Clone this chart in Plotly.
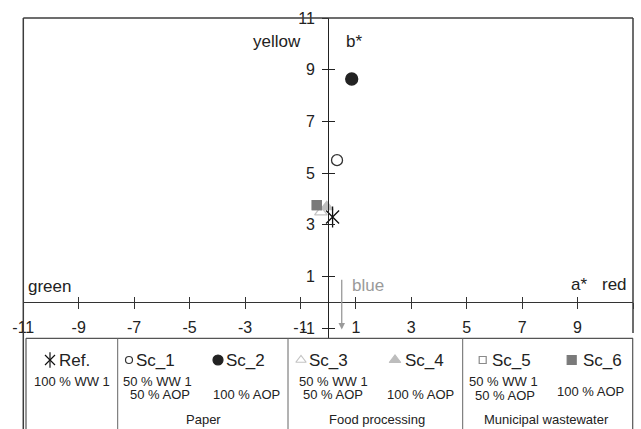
import plotly.graph_objects as go

# ---------------- data ----------------
scenarios = ["Ref.", "Sc_1", "Sc_2", "Sc_3", "Sc_4", "Sc_5", "Sc_6"]
a_star = [0.16, 0.32, 0.85, -0.26, -0.05, -0.41, -0.41]
b_star = [3.30, 5.50, 8.64, 3.49, 3.69, 3.76, 3.76]
x_ticks = [-11, -9, -7, -5, -3, -1, 1, 3, 5, 7, 9, 11]
x_tick_labels = ["-11", "-9", "-7", "-5", "-3", "-1", "1", "3", "5", "7", "9", "11"]
y_ticks = [-1, 1, 3, 5, 7, 9, 11]
y_tick_labels = ["-1", "1", "3", "5", "7", "9", "11"]

# legend-table content
line1 = ["100 % WW 1", "50 % WW 1", "", "50 % WW 1", "", "50 % WW 1", ""]
line2 = ["", "50 % AOP", "100 % AOP", "50 % AOP", "100 % AOP", "50 % AOP", "100 % AOP"]
groups = ["Paper", "Food processing", "Municipal wastewater"]

# ---------------- styles ----------------
W, H = 641, 429
FONT = "Arial, Liberation Sans, sans-serif"
TXT = "#222222"
symbols = ["x-thin-open", "circle-open", "circle", "triangle-up-open", "triangle-up", "square-open", "square"]
colors = ["#111111", "#333333", "#222222", "#c4c4c4", "#bdbdbd", "#8a8a8a", "#7a7a7a"]
sizes = [13, 11, 12, 11, 11, 9, 9]
leg_sizes = [10, 7, 10, 9, 10, 7, 9]

# pixel geometry
px_left, px_right = 23.3, 633.0
px_top, px_bottom_axis, px_zero = 18.0, 338.0, 302.3
x_range = [-11, 11]
ppu_y = (px_zero - px_top) / 11.0
y_bottom = -(px_bottom_axis - px_zero) / ppu_y
x_dom = [px_left / W, px_right / W]
y_dom = [(H - px_bottom_axis) / H, (H - px_top) / H]
x_axis_pos = (H - px_zero) / H
y_axis_pos = (x_dom[0] + x_dom[1]) / 2

fig = go.Figure()

# data markers
for i, name in enumerate(scenarios):
    fig.add_trace(go.Scatter(
        x=[a_star[i]], y=[b_star[i]], mode="markers", name=name,
        marker=dict(symbol=symbols[i], size=sizes[i], color=colors[i],
                    line=dict(width=1.3, color=colors[i])),
        xaxis="x", yaxis="y", hoverinfo="skip"))
# vertical arm of the Ref. star marker (on overlay axes, same scale)
fig.add_trace(go.Scatter(
    x=[a_star[0]], y=[b_star[0]], mode="markers",
    marker=dict(symbol="line-ns-open", size=15, color=colors[0], line=dict(width=1.3, color=colors[0])),
    xaxis="x3", yaxis="y3", hoverinfo="skip"))

# legend table markers (pixel axes)
head_marker_x = [50, 129, 218, 301, 395, 482.7, 571.7]
head_text_x = [57, 134, 224, 306.5, 403, 490, 581]
head_y = 360
for i, name in enumerate(scenarios):
    fig.add_trace(go.Scatter(
        x=[head_marker_x[i]], y=[head_y], mode="markers",
        marker=dict(symbol=symbols[i], size=leg_sizes[i], color=colors[i],
                    line=dict(width=1.2, color=colors[i])),
        xaxis="x4", yaxis="y4", hoverinfo="skip"))
fig.add_trace(go.Scatter(
    x=[head_marker_x[0]], y=[head_y], mode="markers",
    marker=dict(symbol="line-ns-open", size=11, color=colors[0], line=dict(width=1.2, color=colors[0])),
    xaxis="x4", yaxis="y4", hoverinfo="skip"))

ann = []
def txt(x, y, t, size, xanchor="center", color=TXT):
    ann.append(dict(x=x, y=y, text=t, showarrow=False, xanchor=xanchor, yanchor="middle",
                    xref="x4", yref="y4", font=dict(family=FONT, size=size, color=color)))

for i, name in enumerate(scenarios):
    txt(head_text_x[i], head_y, name, 17, xanchor="left")
line1_x = [71.7, 157, None, 333.5, None, 503, None]
line2_x = [None, 159.5, 246, 333, 420, 504.5, 590]
line2_y = [None, 394, 394, 394, 394, 395, 391]
for i in range(len(scenarios)):
    if line1[i]:
        txt(line1_x[i], 381, line1[i], 13)
    if line2[i]:
        txt(line2_x[i], line2_y[i], line2[i], 13)
group_x = [203, 376.7, 546]
for g, gx in zip(groups, group_x):
    txt(gx, 419, g, 13)

# axis direction labels
txt(303, 41, "yellow", 17, xanchor="right")
txt(344, 41, "b*", 17, xanchor="left")
txt(26, 286, "green", 17, xanchor="left")
txt(579, 284, "a*", 17)
txt(600, 284, "red", 17, xanchor="left")
txt(350, 285, "blue", 17, xanchor="left", color="#9a9a9a")

# gray arrow toward blue
ann.append(dict(x=0.49, y=-1.05, ax=0.49, ay=0.93, xref="x", yref="y", axref="x", ayref="y",
                showarrow=True, arrowhead=2, arrowsize=1, arrowwidth=1.3, arrowcolor="#9a9a9a", text=""))

# frame and table lines (pixel coords)
LC = "#3c3c3c"
shapes = []
def seg(x0, y0, x1, y1, w=1.5, c=LC):
    shapes.append(dict(type="line", xref="x4", yref="y4", x0=x0, y0=y0, x1=x1, y1=y1,
                       line=dict(color=c, width=w)))
seg(px_left, px_top, px_right, px_top)
seg(px_left, px_top, px_left, H + 2)
seg(px_right, px_top, px_right, 333)
seg(26, 338.3, px_right, 338.3, 1.2, "#555555")
seg(26, 338.3, 26, H + 2, 1.2, "#555555")
seg(632.7, 338.3, 632.7, H + 2, 1.2, "#555555")
for dx in [117.7, 288, 462.7]:
    seg(dx, 338.3, dx, H + 2, 1.0, "#666666")

axis_common = dict(showgrid=False, zeroline=False, showline=False)
fig.update_layout(
    width=W, height=H, autosize=False,
    template="none",
    margin=dict(l=0, r=0, t=0, b=0, pad=0),
    paper_bgcolor="white", plot_bgcolor="rgba(0,0,0,0)",
    showlegend=False,
    font=dict(family=FONT, color=TXT),
    xaxis=dict(domain=x_dom, range=x_range, anchor="free", position=x_axis_pos,
               tickvals=x_ticks, ticktext=x_tick_labels, ticks="outside", ticklen=6, tickwidth=1.2,
               tickcolor="#333", showline=True, linecolor="#333", linewidth=1.3, showgrid=False,
               zeroline=False, tickfont=dict(size=16, color=TXT), ticklabelstandoff=4, automargin=False),
    xaxis3=dict(overlaying="x", range=x_range, anchor="free", position=x_axis_pos,
                tickvals=x_ticks, ticks="inside", ticklen=5, tickwidth=1.2, tickcolor="#333",
                showticklabels=False, automargin=False, **axis_common),
    yaxis=dict(domain=y_dom, range=[y_bottom, 11], anchor="free", position=y_axis_pos,
               tickvals=y_ticks, ticktext=y_tick_labels, ticks="outside", ticklen=6, tickwidth=1.2,
               tickcolor="#222", showline=True, linecolor="#222", linewidth=1.3, showgrid=False,
               zeroline=False, tickfont=dict(size=16, color=TXT), ticklabelstandoff=4, automargin=False),
    yaxis3=dict(overlaying="y", range=[y_bottom, 11], anchor="free", position=y_axis_pos,
                tickvals=y_ticks, ticks="inside", ticklen=6, tickwidth=1.2, tickcolor="#222",
                showticklabels=False, automargin=False, **axis_common),
    xaxis4=dict(domain=[0, 1], range=[0, W], anchor="y4", visible=False, fixedrange=True),
    yaxis4=dict(domain=[0, 1], range=[H, 0], anchor="x4", visible=False, fixedrange=True),
    annotations=ann, shapes=shapes,
)

fig.write_html("out.html")
